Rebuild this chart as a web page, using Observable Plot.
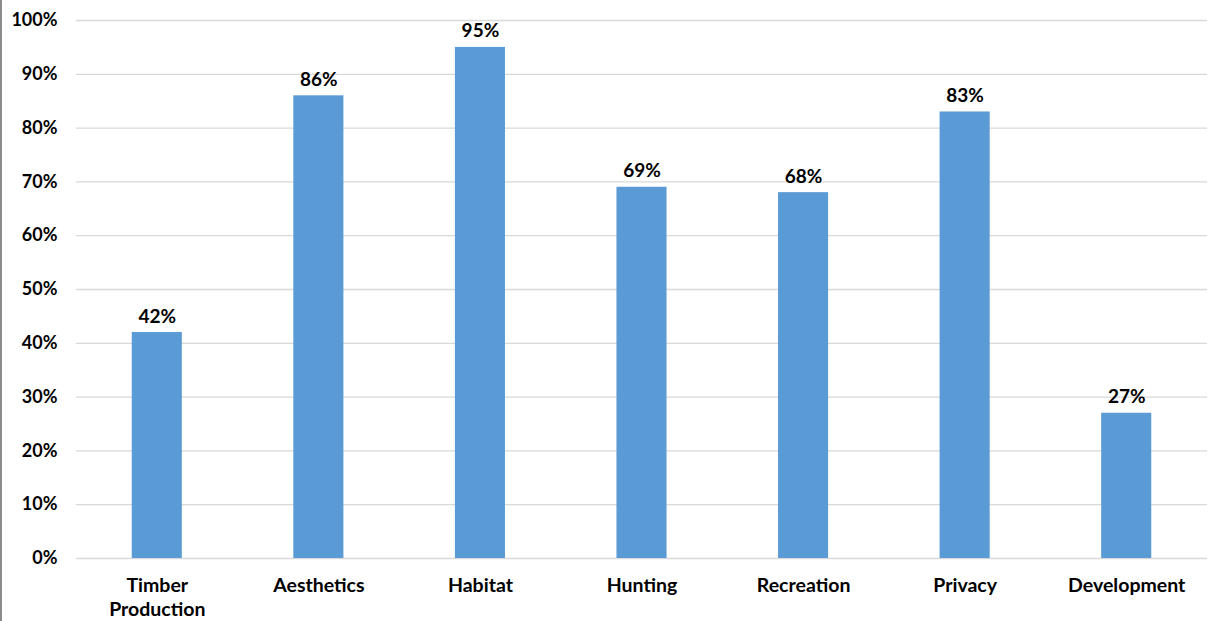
<!DOCTYPE html>
<html>
<head>
<meta charset="utf-8">
<script src="https://cdn.jsdelivr.net/npm/d3@7"></script>
<script src="https://cdn.jsdelivr.net/npm/@observablehq/plot@0.6"></script>
<style>
  html, body { margin: 0; padding: 0; background: #fff; }
  #chart { width: 1209px; height: 621px; overflow: hidden; }
  #chart svg { display: block; border-left: 2px solid #8c8c8c; }
</style>
</head>
<body>
<div id="chart"></div>
<script>
const categories = ["Timber Production", "Aesthetics", "Habitat", "Hunting", "Recreation", "Privacy", "Development"];
const values = [42, 86, 95, 69, 68, 83, 27];
const yTicks = [0, 10, 20, 30, 40, 50, 60, 70, 80, 90, 100];

const data = categories.map((c, i) => ({category: c, value: values[i]}));
const labelLines = {"Timber Production": "Timber\nProduction"};

const chart = Plot.plot({
  width: 1207,
  height: 621,
  marginLeft: 74,
  marginRight: 2,
  marginTop: 20,
  marginBottom: 63,
  style: {fontFamily: "Lato, sans-serif", fontSize: "18px", fontWeight: "bold", color: "#000", background: "#fff"},
  x: {domain: categories, paddingInner: 0.69, paddingOuter: 0.345, round: false, label: null},
  y: {domain: [0, 100], label: null},
  marks: [
    Plot.ruleY(yTicks, {stroke: "#d9d9d9", strokeWidth: 1.3}),
    Plot.barY(data, {x: "category", y: "value", fill: "#5B9BD5"}),
    Plot.text(data, {x: "category", y: "value", text: d => d.value + "%", dy: -10, lineAnchor: "bottom", fill: "#000", fontSize: 19, fontWeight: "bold"}),
    Plot.axisY({ticks: yTicks, tickSize: 0, tickPadding: 19, tickFormat: d => d + "%", fontSize: 18, fontWeight: "bold"}),
    Plot.axisX({tickSize: 0, tickPadding: 16, tickFormat: d => labelLines[d] || d, lineHeight: 1.25, lineAnchor: "top", fontSize: 19.5, fontWeight: "bold"})
  ]
});
document.getElementById("chart").appendChild(chart);
</script>
</body>
</html>
